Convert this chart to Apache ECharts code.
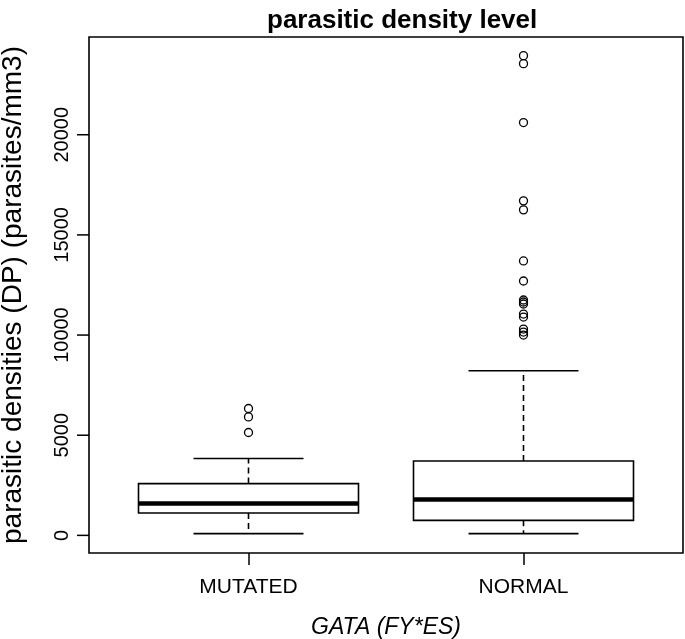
<!DOCTYPE html>
<html>
<head>
<meta charset="utf-8">
<script src="https://cdn.jsdelivr.net/npm/echarts@6/dist/echarts.min.js"></script>
<style>
html,body{margin:0;padding:0;background:#fff;}
#chart{width:685px;height:639px;}
</style>
</head>
<body>
<div id="chart"></div>
<script>
// ---- data ----
var categories = ['MUTATED', 'NORMAL'];
var categoryX = [1, 2];
var whiskerLow = [85, 85];
var boxQ1 = [1115, 750];
var boxMedian = [1585, 1785];
var boxQ3 = [2585, 3715];
var whiskerHigh = [3835, 8215];
var outliersMutated = [6335, 5915, 5135];
var outliersNormal = [23950, 23550, 20610, 16700, 16250, 13700, 12700,
  11750, 11650, 11550, 11050, 10900, 10300, 10150, 10000];
var yTickValues = [0, 5000, 10000, 15000, 20000];

var FONT = '"Liberation Sans", Arial, Helvetica, sans-serif';

// ---- layout ----
var W = 685, H = 639;
var G = {left: 89, right: 2, top: 37, bottom: 86};
var TICK = 12;
var X_MIN = 0.42, X_MAX = 2.58, Y_MIN = -880, Y_MAX = 24880;
var gw = W - G.left - G.right, gh = H - G.top - G.bottom;
function px(x) { return G.left + (x - X_MIN) / (X_MAX - X_MIN) * gw; }
function py(y) { return G.top + (Y_MAX - y) / (Y_MAX - Y_MIN) * gh; }
var yTickMin = yTickValues[0], yTickMax = yTickValues[yTickValues.length - 1];
var yTickStep = yTickValues[1] - yTickValues[0];

var boxData = categories.map(function (c, i) {
  return [categoryX[i], whiskerLow[i], boxQ1[i], boxMedian[i], boxQ3[i], whiskerHigh[i]];
});
var outlierData = [];
outliersMutated.forEach(function (v) { outlierData.push([categoryX[0], v]); });
outliersNormal.forEach(function (v) { outlierData.push([categoryX[1], v]); });
var yTickData = yTickValues.map(function (v) { return [X_MIN, v]; });

var HALF = 0.4, CAP = 0.2;

function renderBox(params, api) {
  var x = api.value(0), lo = api.value(1), q1 = api.value(2), md = api.value(3), q3 = api.value(4), hi = api.value(5);
  var tl = api.coord([x - HALF, q3]);
  var br = api.coord([x + HALF, q1]);
  var mL = api.coord([x - HALF, md]);
  var mR = api.coord([x + HALF, md]);
  var c3 = api.coord([x, q3]);
  var cH = api.coord([x, hi]);
  var c1 = api.coord([x, q1]);
  var cL = api.coord([x, lo]);
  var hL = api.coord([x - CAP, hi]);
  var hR = api.coord([x + CAP, hi]);
  var lL = api.coord([x - CAP, lo]);
  var lR = api.coord([x + CAP, lo]);
  return {
    type: 'group',
    children: [
      {type: 'line', shape: {x1: c3[0], y1: c3[1], x2: cH[0], y2: cH[1]}, style: {stroke: '#000', lineWidth: 1.6, lineDash: [6, 4]}},
      {type: 'line', shape: {x1: c1[0], y1: c1[1], x2: cL[0], y2: cL[1]}, style: {stroke: '#000', lineWidth: 1.6, lineDash: [6, 4]}},
      {type: 'line', shape: {x1: hL[0], y1: hL[1], x2: hR[0], y2: hR[1]}, style: {stroke: '#000', lineWidth: 1.6}},
      {type: 'line', shape: {x1: lL[0], y1: lL[1], x2: lR[0], y2: lR[1]}, style: {stroke: '#000', lineWidth: 1.6}},
      {type: 'rect', shape: {x: tl[0], y: tl[1], width: br[0] - tl[0], height: br[1] - tl[1]}, style: {stroke: '#000', lineWidth: 1.6, fill: null}},
      {type: 'line', shape: {x1: mL[0], y1: mL[1], x2: mR[0], y2: mR[1]}, style: {stroke: '#000', lineWidth: 4.5}}
    ]
  };
}

function renderYTick(params, api) {
  var p = api.coord([api.value(0), api.value(1)]);
  return {
    type: 'line',
    shape: {x1: p[0] - TICK, y1: p[1], x2: p[0], y2: p[1]},
    style: {stroke: '#000', lineWidth: 1.5}
  };
}

var hidden = {show: false};

var chart = echarts.init(document.getElementById('chart'), null, {renderer: 'canvas'});
chart.setOption({
  backgroundColor: '#fff',
  animation: false,
  title: {
    text: 'parasitic density level',
    left: 262, top: 3,
    textStyle: {fontFamily: FONT, fontSize: 26, fontWeight: 'bold', color: '#000'}
  },
  grid: [
    {left: G.left, right: G.right, top: G.top, bottom: G.bottom, outerBoundsMode: 'none', containLabel: false,
     show: true, borderColor: '#000', borderWidth: 1.6, backgroundColor: 'transparent'},
    // y label helper grid: spans exactly 0..20000 vertically
    {left: G.left, width: 1, top: py(yTickMax), height: py(yTickMin) - py(yTickMax), outerBoundsMode: 'none', containLabel: false},
    // x tick helper grid: spans exactly category 1..2 horizontally
    {left: px(categoryX[0]), width: px(categoryX[1]) - px(categoryX[0]), top: H - G.bottom - 1, height: 1, outerBoundsMode: 'none', containLabel: false}
  ],
  xAxis: [
    {
      gridIndex: 0, type: 'value', min: X_MIN, max: X_MAX,
      name: 'GATA (FY*ES)', nameLocation: 'middle', nameGap: 63,
      nameTextStyle: {fontFamily: FONT, fontSize: 23, fontStyle: 'italic', color: '#000'},
      axisLine: hidden, axisTick: hidden, axisLabel: hidden, splitLine: hidden
    },
    {gridIndex: 1, type: 'value', show: false, min: 0, max: 1},
    {
      gridIndex: 2, type: 'value', min: categoryX[0], max: categoryX[1], interval: 1,
      position: 'bottom',
      axisLine: hidden, splitLine: hidden,
      axisTick: {show: true, inside: false, length: TICK, lineStyle: {color: '#000', width: 1.5}},
      axisLabel: {
        show: true, margin: 24, fontFamily: FONT, fontSize: 21, color: '#000',
        showMinLabel: true, showMaxLabel: true,
        formatter: function (v) { var i = categoryX.indexOf(Math.round(v)); return i >= 0 ? categories[i] : ''; }
      }
    }
  ],
  yAxis: [
    {
      gridIndex: 0, type: 'value', min: Y_MIN, max: Y_MAX,
      name: 'parasitic densities (DP) (parasites/mm3)', nameLocation: 'middle', nameGap: 62,
      nameTextStyle: {fontFamily: FONT, fontSize: 28, color: '#000'},
      axisLine: hidden, axisTick: hidden, axisLabel: hidden, splitLine: hidden
    },
    {
      gridIndex: 1, type: 'value', min: yTickMin, max: yTickMax, interval: yTickStep,
      position: 'left',
      axisLine: hidden, axisTick: hidden, splitLine: hidden,
      axisLabel: {
        show: true, rotate: 90, margin: 17, fontFamily: FONT, fontSize: 20, color: '#000',
        showMinLabel: true, showMaxLabel: true,
        formatter: function (v) { return String(v); }
      }
    },
    {gridIndex: 2, type: 'value', show: false, min: 0, max: 1}
  ],
  series: [
    {
      type: 'custom', xAxisIndex: 0, yAxisIndex: 0,
      renderItem: renderBox,
      encode: {x: 0, y: [1, 2, 3, 4, 5]},
      data: boxData,
      z: 2
    },
    {
      type: 'custom', xAxisIndex: 0, yAxisIndex: 0,
      renderItem: renderYTick,
      clip: false,
      encode: {x: 0, y: 1},
      data: yTickData,
      silent: true,
      z: 2
    },
    {
      type: 'scatter', xAxisIndex: 0, yAxisIndex: 0,
      data: outlierData,
      symbol: 'circle',
      symbolSize: 8,
      itemStyle: {color: 'rgba(0,0,0,0)', borderColor: '#000', borderWidth: 1.3, opacity: 1},
      z: 3
    }
  ]
});
</script>
</body>
</html>
